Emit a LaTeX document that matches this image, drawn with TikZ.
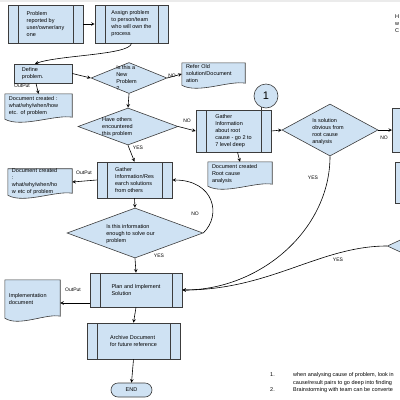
\documentclass[tikz,border=0pt]{standalone}
\usepackage{fontspec}
\setmainfont{Liberation Sans}
\usetikzlibrary{positioning}
\usetikzlibrary{calc}
\usetikzlibrary{backgrounds}
\usetikzlibrary{shapes.geometric}
\definecolor{bf}{RGB}{207, 226, 243}
\definecolor{lc}{RGB}{60, 60, 60}

\begin{document}
\begin{tikzpicture}[x=1pt, y=-1pt, font=\fontsize{5.5}{7}\selectfont,
proc/.style={rectangle, fill=bf, draw=lc, line width=0.6pt, align=left, inner sep=0pt, path picture={\draw[lc, line width=0.6pt] ([xshift=10pt]path picture bounding box.north west) -- ([xshift=10pt]path picture bounding box.south west) ([xshift=-10pt]path picture bounding box.north east) -- ([xshift=-10pt]path picture bounding box.south east);}},
box/.style={rectangle, fill=bf, draw=lc, line width=0.6pt, align=left, inner sep=0pt},
dia/.style={diamond, fill=bf, draw=lc, line width=0.6pt, inner sep=0pt},
doc/.style={rectangle, align=left, inner xsep=4pt, inner ysep=1pt},
txt/.style={align=left, inner sep=0pt},
lbl/.style={inner sep=0pt, font=\fontsize{5}{6}\selectfont},
arr/.style={->, >=stealth, line width=0.6pt}]
\useasboundingbox (0,0) rectangle (400,400);
\fill[black!8] (0,0) rectangle (400,2);
\node (prob) [proc, minimum width=75pt, minimum height=38pt] at (45.5, 24) {Problem\\reported by\\user/owner/any\\one};
\node (assign) [proc, minimum width=73pt, minimum height=38pt] at (131.5, 24) {Assign problem\\to person/team\\who will own the\\process};
\node (define) [box, minimum width=58pt, minimum height=19pt, text width=42pt] at (43, 73.5) {Define\\problem.};
\node (dnew) [dia, minimum width=76pt, minimum height=31pt] at (129, 78) {};
\node (dnewt) [txt] at (126.5, 78) {Is this a\\New\\Problem\\?};
\node (refer) [doc, text width=55pt, minimum height=22pt] at (213.5, 74) {Refer Old\\solution/Document\\ation};
\node (docA) [doc, text width=59pt, minimum height=25pt] at (38.5, 106.5) {Document created :\\what/why/when/how\\etc. of problem};
\node (dhave) [dia, minimum width=100pt, minimum height=37pt] at (128, 126.5) {};
\node (dhavet) [txt] at (117.5, 127) {Have others\\encountered\\this problem};
\node (groot) [proc, minimum width=75pt, minimum height=42pt] at (233.5, 131) {Gather\\Information\\about root\\cause - go 2 to\\7 level deep};
\node (circ) [circle, draw=lc, fill=bf, line width=0.6pt, minimum size=24pt, inner sep=0pt, font=\fontsize{11}{12}\selectfont] at (266, 96) {1};
\node (droot) [dia, minimum width=96pt, minimum height=52pt] at (330, 130) {};
\node (droott) [txt] at (328, 131.5) {Is solution\\obvious from\\root cause\\analysis};
\node (rbox1) [box, minimum width=40pt, minimum height=44pt, anchor=west] at (392, 130) {};
\node (rbox2) [box, minimum width=40pt, minimum height=41pt, anchor=west] at (395, 182.5) {};
\node (rdia) [dia, minimum width=60pt, minimum height=28pt, anchor=west] at (387, 246) {};
\node (docR) [doc, text width=56pt, minimum height=24pt] at (240, 174) {Document created\\Root cause\\analysis};
\node (gres) [proc, minimum width=75pt, minimum height=36pt] at (134.5, 180) {Gather\\Information/Res\\earch solutions\\from others};
\node (docB) [doc, text width=56pt, minimum height=24pt, inner ysep=0pt] at (40, 182) {Document created\\:\\what/why/when/ho\\w etc of problem};
\node (dinfo) [dia, minimum width=136pt, minimum height=50pt] at (135, 233) {};
\node (dinfot) [txt] at (130.5, 234) {Is this information\\enough to solve our\\problem};
\node (plan) [proc, minimum width=92pt, minimum height=34pt] at (136, 290) {Plan and Implement\\Solution};
\node (docI) [doc, text width=47pt, minimum height=38pt] at (32.5, 299) {Implementation\\document};
\node (arch) [proc, minimum width=93pt, minimum height=36pt] at (133.5, 341) {Archive Document\\for future reference};
\node (endn) [rectangle, rounded corners=7pt, fill=bf, draw=lc, line width=0.6pt, minimum width=41pt, minimum height=14pt, inner sep=0pt] at (131.5, 390) {END};
\begin{scope}[on background layer]
\foreach \d in {refer, docA, docR, docB, docI}
  \draw[fill=bf, draw=lc, line width=0.6pt] (\d.north west) -- (\d.north east) -- ([yshift=2pt]\d.south east) .. controls ($(\d.south)!0.5!(\d.south east)+(0pt,5pt)$) and ($(\d.south)!0.5!(\d.south west)+(0pt,-9pt)$) .. (\d.south west) -- cycle;
\end{scope}
\draw[lc, line width=0.6pt] (circ.245) -- (circ.245 |- groot.north);
\draw[arr] (prob) -- (assign);
\draw[arr] (assign.south) .. controls (130, 55) and (60, 55) .. ([xshift=-8pt]define.north);
\draw[arr] (define.east) -- (dnew.west);
\draw[arr] (dnew.east) -- (refer.west);
\draw[arr] ([xshift=-7pt]define.south) -- (docA.north);
\draw[arr] (dnew.south) -- (dhave.north);
\draw[arr] (dhave.east) -- (groot.west);
\draw[arr] (dhave.south) -- (gres.north);
\draw[arr] (groot.east) -- (droot.west);
\draw[arr] ([xshift=4pt]groot.south) -- (docR.north);
\draw[arr] (droot.east) -- (rbox1.west);
\draw[arr] (gres.west) -- (docB.east);
\draw[arr] (gres.south) -- (dinfo.north);
\draw[arr] (dinfo.east) .. controls (222, 215) and (214, 180) .. (gres.east);
\draw[arr] (dinfo.south) -- (plan.north);
\draw[arr] ([yshift=-13pt]plan.west) -- ([yshift=-13pt]plan.west -| docI.east);
\draw[arr] (plan.south) -- (arch.north);
\draw[arr] (arch.south) -- (endn.north);
\draw[arr] (droot.south) .. controls (330, 230) and (260, 290) .. (plan.east);
\draw[arr] (rdia.west) .. controls (320, 246) and (270, 290) .. (plan.east);
\node (o1) [lbl] at (22, 86) {OutPut};
\node (o2) [lbl] at (84, 173) {OutPut};
\node (o3) [lbl] at (73, 290) {OutPut};
\node (n1) [lbl] at (172, 76) {NO};
\node (n2) [lbl] at (187, 121) {NO};
\node (n3) [lbl] at (384, 138) {NO};
\node (n4) [lbl] at (195, 214) {NO};
\node (y1) [lbl] at (138, 148) {YES};
\node (y2) [lbl] at (159, 256) {YES};
\node (y3) [lbl] at (313, 178) {YES};
\node (y4) [lbl] at (338, 260) {YES};
\node (k1) [txt, anchor=west] at (270, 375) {1.};
\node (k1a) [txt, anchor=west] at (293, 375) {when analysing cause of problem, look in};
\node (k1b) [txt, anchor=west] at (293, 383) {cause/result pairs to go deep into finding};
\node (k2) [txt, anchor=west] at (270, 390) {2.};
\node (k2a) [txt, anchor=west] at (293, 390) {Brainstorming with team can be converte};
\node (hint) [txt, anchor=north west] at (395, 15) {H\\w\\C};
\end{tikzpicture}
\end{document}
